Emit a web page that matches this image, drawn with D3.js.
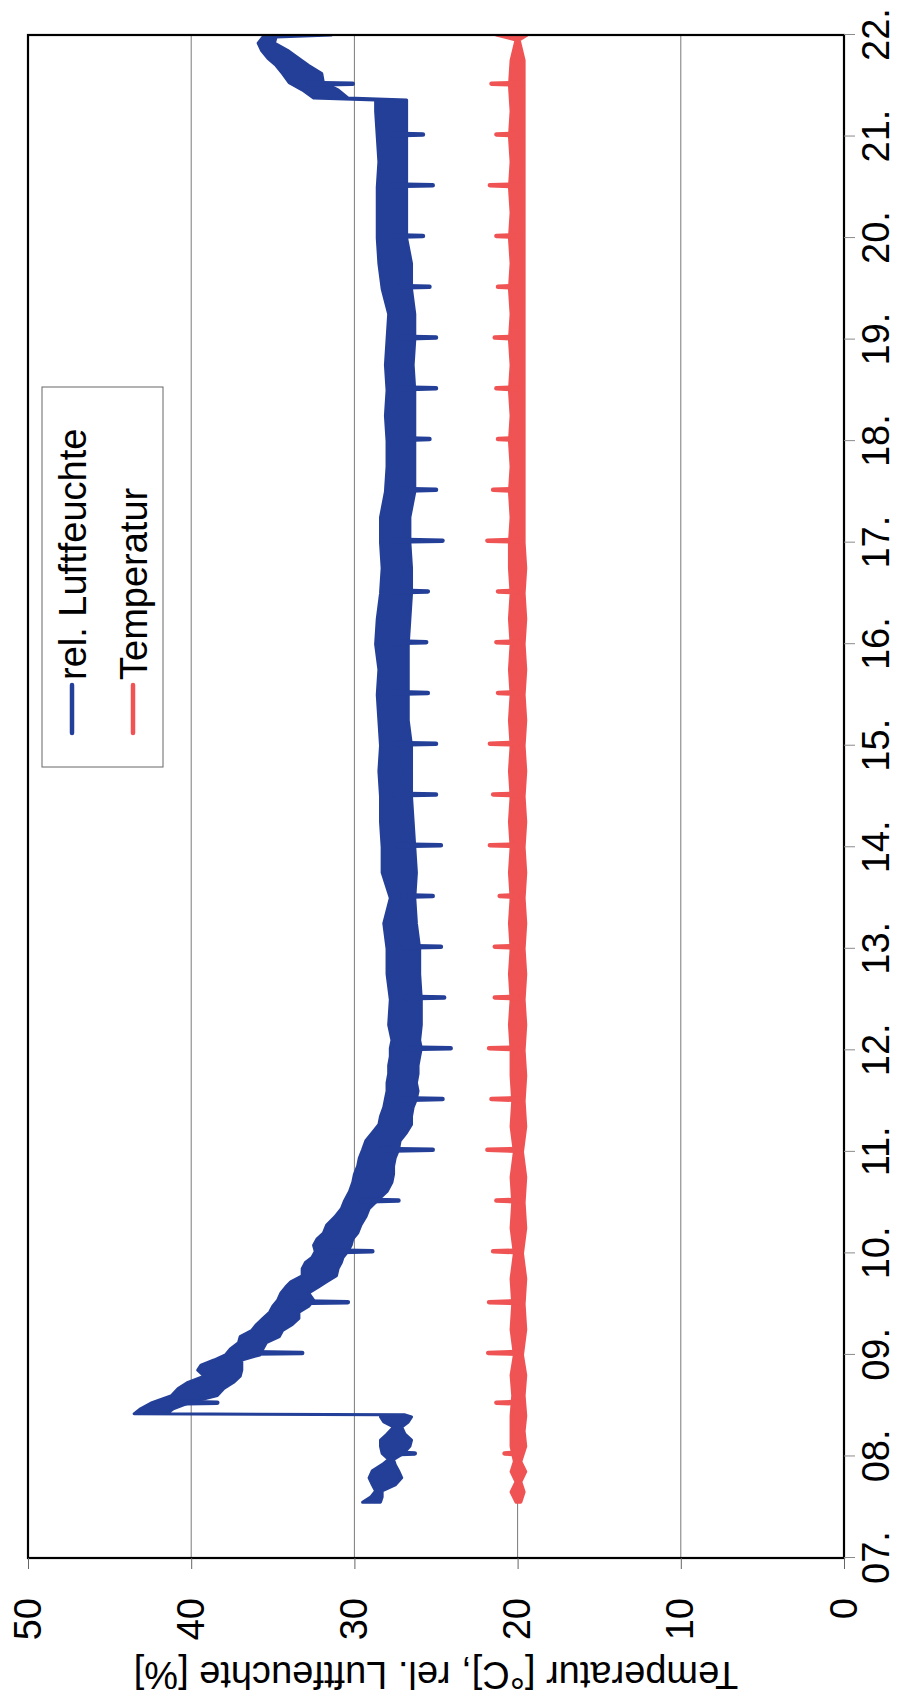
<!DOCTYPE html>
<html>
<head>
<meta charset="utf-8">
<script src="https://cdn.jsdelivr.net/npm/d3@7"></script>
<style>
  html, body { margin: 0; padding: 0; background: #fff; }
  svg { display: block; }
  text { font-family: "Liberation Sans", Arial, Helvetica, sans-serif; }
</style>
</head>
<body>
<svg id="chart" width="905" height="1703"></svg>
<script>
// ---- axis ticks ----
const dayTicks  = [7, 8, 9, 10, 11, 12, 13, 14, 15, 16, 17, 18, 19, 20, 21, 22];
const dayLabels = ["07.", "08.", "09.", "10.", "11.", "12.", "13.", "14.", "15.", "16.", "17.", "18.", "19.", "20.", "21.", "22."];
const valueTicks = [0, 10, 20, 30, 40, 50];

// ---- relative humidity: time (day of month) with low / high of the trace band ----
const rhDay  = [7.55, 7.60, 7.66, 7.72, 7.79, 7.86, 7.92, 7.97, 8.03, 8.10, 8.16, 8.22, 8.29, 8.34, 8.39, 8.41,
                8.42, 8.47, 8.53, 8.60, 8.67, 8.73, 8.79, 8.85, 8.90, 8.95, 9.00, 9.06, 9.12, 9.18, 9.24, 9.30,
                9.36, 9.42, 9.48, 9.54, 9.61, 9.67, 9.72, 9.78, 9.85, 9.91, 9.96, 10.02, 10.08, 10.14, 10.20, 10.28,
                10.36, 10.44, 10.52, 10.61, 10.70, 10.78, 10.86, 10.94, 11.02, 11.11, 11.19, 11.27, 11.35, 11.44,
                11.52, 11.60, 11.68, 11.77, 11.85, 11.94, 12.02, 12.10, 12.25, 12.50, 12.75, 13.00, 13.25, 13.50,
                13.75, 14.00, 14.25, 14.50, 14.75, 15.00, 15.25, 15.50, 15.75, 16.00, 16.25, 16.50, 16.75, 17.00,
                17.25, 17.50, 17.75, 18.00, 18.25, 18.50, 18.75, 19.00, 19.25, 19.50, 19.75, 20.00, 20.25, 20.50,
                20.75, 21.00, 21.25, 21.36, 21.38, 21.46, 21.53, 21.62, 21.70, 21.77, 21.85, 21.92, 21.98, 22.00];
const rhLow  = [28.4, 28.3, 28.3, 27.5, 27.1, 27.3, 27.5, 27.6, 27.0, 26.6, 26.5, 26.9, 27.1, 26.7, 26.5, 26.9,
                41.5, 41.1, 40.1, 38.4, 38.0, 37.4, 37.0, 36.9, 36.9, 36.9, 35.8, 35.6, 35.4, 34.6, 34.4, 33.8,
                33.4, 33.4, 32.8, 32.5, 32.8, 32.2, 31.7, 31.1, 31.0, 30.8, 30.7, 30.4, 30.2, 30.1, 29.8, 29.6,
                29.3, 29.1, 28.6, 28.0, 27.7, 27.6, 27.6, 27.5, 27.3, 27.2, 26.8, 26.5, 26.5, 26.4,
                26.2, 26.1, 26.2, 26.1, 26.1, 26.0, 25.9, 26.0, 25.9, 25.9, 26.0, 26.0, 26.2, 26.3,
                26.2, 26.3, 26.4, 26.5, 26.5, 26.5, 26.7, 26.7, 26.7, 26.7, 26.6, 26.5, 26.5, 26.6,
                26.6, 26.3, 26.3, 26.3, 26.3, 26.3, 26.4, 26.3, 26.3, 26.5, 26.5, 26.8, 26.8, 26.8,
                26.8, 26.8, 26.8, 26.8, 30.4, 31.0, 31.9, 32.0, 32.8, 33.4, 34.1, 34.9, 34.8, 31.4];
const rhHigh = [29.5, 29.0, 28.7, 28.9, 29.1, 28.9, 28.3, 27.9, 28.3, 28.4, 28.4, 28.0, 27.6, 28.2, 28.4, 28.3,
                43.5, 43.1, 42.4, 41.2, 40.8, 40.2, 39.2, 39.6, 39.4, 38.6, 37.9, 37.6, 37.1, 37.0, 36.3, 36.0,
                35.6, 35.2, 35.0, 34.7, 34.5, 34.2, 33.9, 33.2, 33.2, 33.0, 32.6, 32.4, 32.5, 32.3, 31.9, 31.7,
                31.2, 30.8, 30.6, 30.3, 30.1, 30.0, 29.8, 29.7, 29.5, 29.3, 28.9, 28.5, 28.4, 28.2,
                28.1, 28.0, 28.0, 27.9, 27.9, 27.8, 27.8, 27.7, 27.9, 27.8, 28.0, 28.0, 28.2, 27.8,
                28.3, 28.3, 28.4, 28.4, 28.5, 28.4, 28.5, 28.6, 28.5, 28.7, 28.6, 28.4, 28.3, 28.4,
                28.4, 28.1, 28.0, 28.0, 28.1, 28.0, 28.1, 28.0, 27.9, 28.3, 28.5, 28.6, 28.6, 28.6,
                28.5, 28.6, 28.7, 28.7, 32.5, 33.2, 34.0, 34.4, 34.8, 35.3, 35.7, 35.9, 35.6, 31.8];

// short dips of the humidity reading (day, lowest value)
const rhSpikeDay = [8.03, 8.53, 9.02, 9.52, 10.02, 10.52, 11.02, 11.52, 12.02, 12.52, 13.02, 13.52, 14.02, 14.52,
                    15.02, 15.52, 16.02, 16.52, 17.02, 17.52, 18.02, 18.52, 19.02, 19.52, 20.02, 20.52, 21.02, 21.52];
const rhSpikeVal = [26.3, 38.4, 33.2, 30.4, 28.9, 27.3, 25.2, 24.6, 24.1, 24.5, 24.7, 25.2, 24.7, 25.0,
                    25.0, 25.5, 25.6, 25.5, 24.6, 25.0, 25.4, 25.0, 25.0, 25.4, 25.8, 25.2, 25.8, 30.1];

// ---- temperature: time with low / high of the trace band ----
const tDay  = [7.55, 7.65, 7.75, 7.85, 7.95, 8.10, 8.25, 8.40, 8.60, 8.80, 9.00, 9.25, 9.50, 9.75, 10.00, 10.25,
               10.50, 10.75, 11.00, 11.25, 11.50, 11.75, 12.00, 12.25, 12.50, 12.75, 13.00, 13.25, 13.50, 13.75,
               14.00, 14.25, 14.50, 14.75, 15.00, 15.25, 15.50, 15.75, 16.00, 16.25, 16.50, 16.75, 17.00, 17.25,
               17.50, 17.75, 18.00, 18.25, 18.50, 18.75, 19.00, 19.25, 19.50, 19.75, 20.00, 20.25, 20.50, 20.75,
               21.00, 21.25, 21.50, 21.75, 21.95, 22.00];
const tLow  = [19.8, 19.6, 19.8, 19.5, 19.8, 19.5, 19.6, 19.5, 19.6, 19.5, 19.7, 19.5, 19.6, 19.5, 19.7, 19.5,
               19.6, 19.5, 19.7, 19.5, 19.6, 19.5, 19.6, 19.5, 19.6, 19.5, 19.6, 19.5, 19.6, 19.5,
               19.6, 19.5, 19.6, 19.5, 19.6, 19.5, 19.6, 19.5, 19.6, 19.5, 19.6, 19.5, 19.6, 19.6,
               19.6, 19.6, 19.6, 19.6, 19.6, 19.6, 19.6, 19.6, 19.6, 19.6, 19.6, 19.6, 19.6, 19.6,
               19.6, 19.6, 19.6, 19.6, 19.9, 19.4];
const tHigh = [20.1, 20.4, 20.1, 20.4, 20.2, 20.4, 20.4, 20.4, 20.3, 20.4, 20.2, 20.4, 20.3, 20.4, 20.2, 20.4,
               20.3, 20.4, 20.2, 20.4, 20.3, 20.4, 20.4, 20.5, 20.4, 20.5, 20.4, 20.5, 20.4, 20.5,
               20.4, 20.5, 20.4, 20.5, 20.4, 20.5, 20.4, 20.5, 20.4, 20.5, 20.4, 20.5, 20.5, 20.4,
               20.5, 20.4, 20.5, 20.4, 20.5, 20.4, 20.5, 20.4, 20.5, 20.4, 20.5, 20.4, 20.5, 20.4,
               20.5, 20.4, 20.5, 20.4, 20.1, 21.3];

// short peaks of the temperature reading (day, highest value)
const tSpikeDay = rhSpikeDay;
const tSpikeVal = [20.8, 21.3, 21.8, 21.75, 21.5, 21.3, 21.85, 21.6, 21.75, 21.4, 21.4, 21.1, 21.7, 21.5,
                   21.7, 21.2, 21.3, 21.2, 21.85, 21.5, 21.2, 21.3, 21.4, 21.2, 21.3, 21.7, 21.3, 21.6];

const seriesNames = ["rel. Luftfeuchte", "Temperatur"];
const colors = { rh: "#233f97", t: "#f05353" };

// ---- layout: the chart is drawn landscape, then turned a quarter turn counter-clockwise ----
const PAGE_W = 905, PAGE_H = 1703;
const L = 145, R = 1668, T = 28, B = 844;   // plot rectangle in the landscape frame
const FONT = 38;

const svg = d3.select("#chart");
const g = svg.append("g").attr("transform", `translate(0,${PAGE_H}) rotate(-90)`);

const x = d3.scaleLinear().domain([7, 22]).range([L, R]);
const y = d3.scaleLinear().domain([0, 50]).range([B, T]);

// clip for the data traces
g.append("clipPath").attr("id", "plotClip")
  .append("rect").attr("x", L).attr("y", T).attr("width", R - L).attr("height", B - T);

// horizontal gridlines
g.append("g").selectAll("line")
  .data(valueTicks.filter(v => v > 0 && v < 50))
  .join("line")
  .attr("x1", L).attr("x2", R)
  .attr("y1", d => y(d)).attr("y2", d => y(d))
  .attr("stroke", "#7a7a7a").attr("stroke-width", 1);

const plot = g.append("g").attr("clip-path", "url(#plotClip)");

function drawBand(days, lo, hi, spikeDays, spikeVals, color) {
  const rows = days.map((d, i) => ({ d, lo: lo[i], hi: hi[i] }));
  const area = d3.area()
    .x(r => x(r.d))
    .y0(r => y(r.lo))
    .y1(r => y(r.hi))
    .curve(d3.curveLinear);
  plot.append("path")
    .datum(rows)
    .attr("d", area)
    .attr("fill", color)
    .attr("stroke", color)
    .attr("stroke-width", 3)
    .attr("stroke-linejoin", "round");

  // short excursions: the trace leaves the band and comes straight back
  const mid = d3.scaleLinear().domain(days).range(days.map((_, i) => (lo[i] + hi[i]) / 2));
  const line = d3.line().x(p => x(p[0])).y(p => y(p[1]));
  plot.append("g").selectAll("path")
    .data(spikeDays.map((d, i) => [[d - 0.008, mid(d)], [d, spikeVals[i]], [d + 0.008, mid(d)]]))
    .join("path")
    .attr("d", line)
    .attr("fill", "none")
    .attr("stroke", color)
    .attr("stroke-width", 4.5)
    .attr("stroke-linecap", "round")
    .attr("stroke-linejoin", "round");
}

drawBand(tDay, tLow, tHigh, tSpikeDay, tSpikeVal, colors.t);
drawBand(rhDay, rhLow, rhHigh, rhSpikeDay, rhSpikeVal, colors.rh);

// plot frame
g.append("rect")
  .attr("x", L).attr("y", T).attr("width", R - L).attr("height", B - T)
  .attr("fill", "none").attr("stroke", "#000").attr("stroke-width", 2.2);

// date axis
const xAxis = g.append("g")
  .attr("transform", `translate(0,${B})`)
  .call(d3.axisBottom(x).tickValues(dayTicks).tickFormat((d, i) => dayLabels[i])
        .tickSizeInner(11).tickSizeOuter(0).tickPadding(7));
xAxis.select(".domain").remove();
xAxis.selectAll(".tick line").attr("stroke", "#8a8a8a");
xAxis.selectAll(".tick text").attr("font-size", FONT).attr("fill", "#000")
  .style("font-family", '"Liberation Sans", Arial, sans-serif');

// value axis
const yAxis = g.append("g")
  .attr("transform", `translate(${L},0)`)
  .call(d3.axisLeft(y).tickValues(valueTicks).tickFormat(d3.format("d"))
        .tickSizeInner(11).tickSizeOuter(0).tickPadding(29));
yAxis.select(".domain").remove();
yAxis.selectAll(".tick line").attr("stroke", "#666");
yAxis.selectAll(".tick text").attr("font-size", FONT).attr("fill", "#000")
  .style("font-family", '"Liberation Sans", Arial, sans-serif');

// value axis title
g.append("text")
  .attr("transform", `translate(41,${(T + B) / 2}) rotate(-90)`)
  .attr("text-anchor", "middle")
  .attr("font-size", FONT)
  .attr("fill", "#000")
  .text("Temperatur [°C], rel. Luftfeuchte [%]");

// legend
const legend = g.append("g");
legend.append("rect")
  .attr("x", 936).attr("y", 42).attr("width", 380).attr("height", 121)
  .attr("fill", "#fff").attr("stroke", "#666").attr("stroke-width", 1);
const legendRows = [
  { name: seriesNames[0], color: colors.rh, cy: 72 },
  { name: seriesNames[1], color: colors.t,  cy: 133 }
];
const row = legend.selectAll("g.row").data(legendRows).join("g").attr("class", "row");
row.append("line")
  .attr("x1", 970).attr("x2", 1018)
  .attr("y1", d => d.cy).attr("y2", d => d.cy)
  .attr("stroke", d => d.color).attr("stroke-width", 4.5).attr("stroke-linecap", "round");
row.append("text")
  .attr("x", 1023).attr("y", d => d.cy).attr("dy", "0.36em")
  .attr("font-size", FONT).attr("fill", "#000")
  .text(d => d.name);
</script>
</body>
</html>
